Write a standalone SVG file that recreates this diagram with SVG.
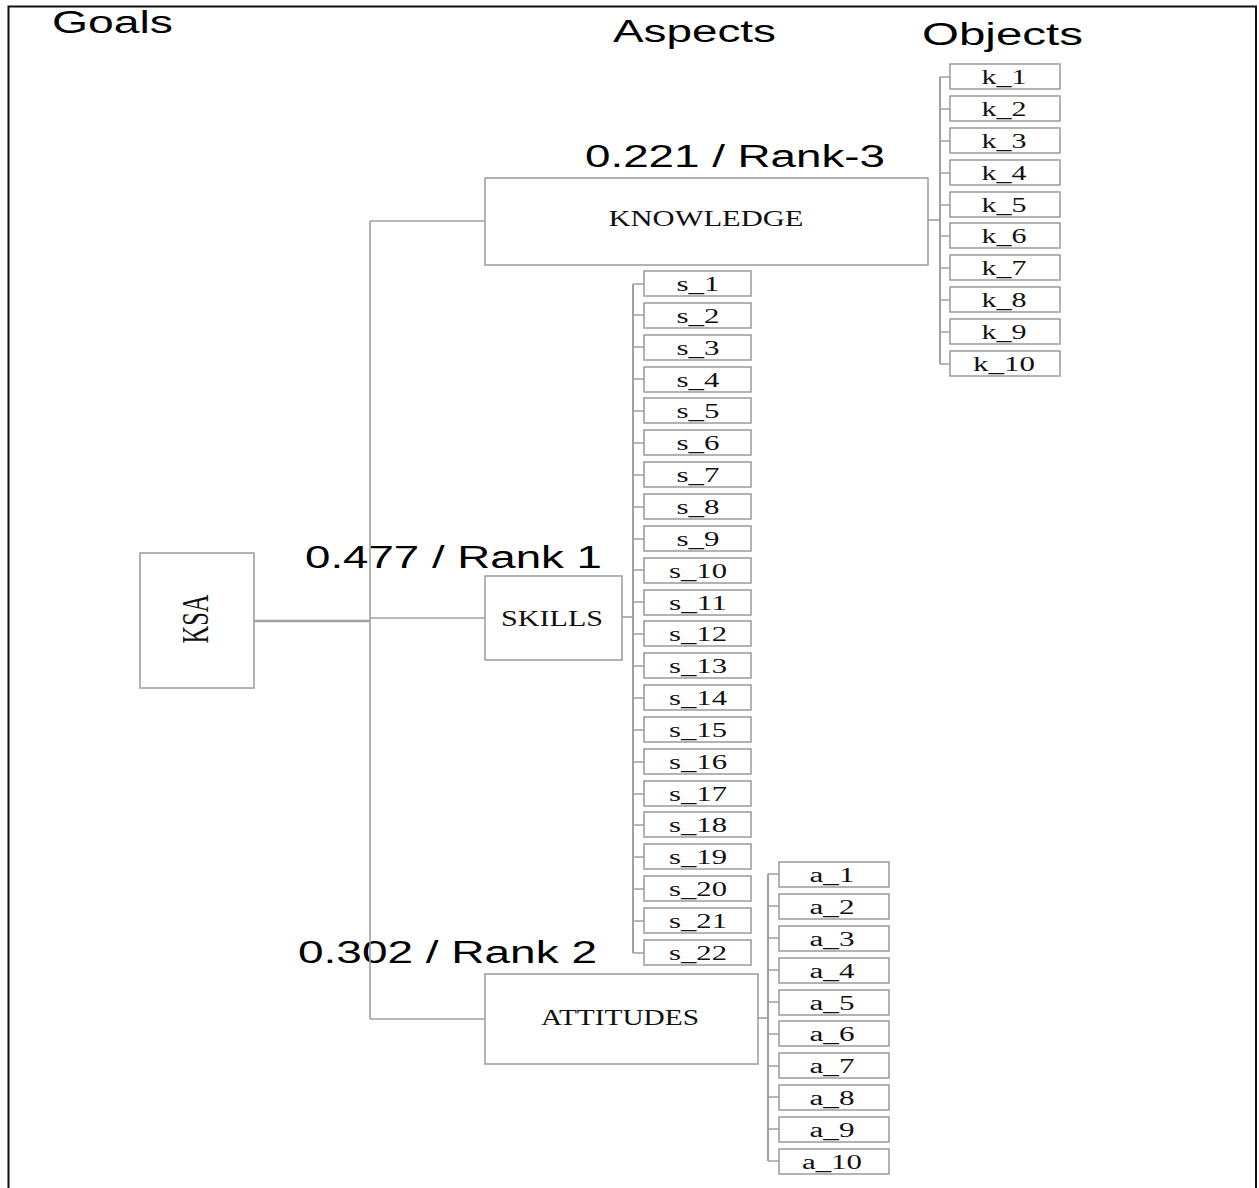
<svg xmlns="http://www.w3.org/2000/svg" width="1259" height="1188" viewBox="0 0 1259 1188">
<style>
.bx{fill:#fff;stroke:#a0a0a0;stroke-width:1.6}
.ln{fill:none;stroke:#a0a0a0;stroke-width:1.6}
.hd{font-family:"Liberation Sans",Arial,sans-serif;font-size:31px;fill:#000}
.tm{font-family:"Liberation Serif","Times New Roman",serif;fill:#111;text-anchor:middle}
.ob{font-size:20px}
.as{font-size:24px}
</style>
<rect x="0" y="0" width="1259" height="1188" fill="#fff"/>
<g id="frame" fill="none" stroke="#111" stroke-width="2">
<path d="M8.5,1188 V6.5 H1256 V1188"/>
</g>
<g id="headers">
<text class="hd" x="52" y="33" font-size="33" textLength="121" lengthAdjust="spacingAndGlyphs">Goals</text>
<text class="hd" x="613" y="42" textLength="163" lengthAdjust="spacingAndGlyphs">Aspects</text>
<text class="hd" x="922" y="45" textLength="161" lengthAdjust="spacingAndGlyphs">Objects</text>
<text class="hd" x="585" y="167" textLength="300" lengthAdjust="spacingAndGlyphs">0.221 / Rank-3</text>
<text class="hd" x="305" y="568" textLength="297" lengthAdjust="spacingAndGlyphs">0.477 / Rank 1</text>
<text class="hd" x="298" y="963" textLength="299" lengthAdjust="spacingAndGlyphs">0.302 / Rank 2</text>
</g>
<g id="connectors" class="ln">
<path d="M254,621 H370" stroke-width="2.4"/>
<path d="M370,221 V1019"/>
<path d="M370,221 H485"/>
<path d="M370,618 H485"/>
<path d="M370,1019 H485"/>
<path d="M928,220 H940"/>
<path d="M940,77 V364" stroke-width="2"/>
<path d="M940,77 H950 M940,109 H950 M940,141 H950 M940,173 H950 M940,205 H950 M940,236 H950 M940,268 H950 M940,300 H950 M940,332 H950 M940,364 H950"/>
<path d="M622,617 H633"/>
<path d="M633,284 V953" stroke-width="2"/>
<path d="M633,284 H644 M633,315 H644 M633,347 H644 M633,379 H644 M633,411 H644 M633,443 H644 M633,475 H644 M633,507 H644 M633,539 H644 M633,570 H644 M633,602 H644 M633,634 H644 M633,666 H644 M633,698 H644 M633,730 H644 M633,762 H644 M633,794 H644 M633,825 H644 M633,857 H644 M633,889 H644 M633,921 H644 M633,953 H644"/>
<path d="M758,1018 H768"/>
<path d="M768,874 V1161" stroke-width="2"/>
<path d="M768,874 H779 M768,906 H779 M768,938 H779 M768,970 H779 M768,1002 H779 M768,1034 H779 M768,1066 H779 M768,1097 H779 M768,1129 H779 M768,1161 H779"/>
</g>
<g id="ksa"><rect class="bx" x="140" y="553" width="114" height="135"/><text class="tm" transform="translate(208,619) scale(1.5,1) rotate(-90)" font-size="25" textLength="49" lengthAdjust="spacingAndGlyphs">KSA</text></g>
<g id="knowledge"><rect class="bx" x="485" y="178" width="443" height="87"/><text class="tm as" x="706" y="226" textLength="195" lengthAdjust="spacingAndGlyphs">KNOWLEDGE</text></g>
<g id="skills"><rect class="bx" x="485" y="576" width="137" height="84"/><text class="tm as" x="552" y="626" textLength="102" lengthAdjust="spacingAndGlyphs">SKILLS</text></g>
<g id="attitudes"><rect class="bx" x="485" y="974" width="273" height="90"/><text class="tm as" x="620" y="1025" textLength="158" lengthAdjust="spacingAndGlyphs">ATTITUDES</text></g>
<g id="k_1"><rect class="bx" x="950" y="64" width="110" height="25"/><text class="tm ob" x="1004" y="84" textLength="45" lengthAdjust="spacingAndGlyphs">k_1</text></g>
<g id="k_2"><rect class="bx" x="950" y="96" width="110" height="25"/><text class="tm ob" x="1004" y="116" textLength="45" lengthAdjust="spacingAndGlyphs">k_2</text></g>
<g id="k_3"><rect class="bx" x="950" y="128" width="110" height="25"/><text class="tm ob" x="1004" y="148" textLength="45" lengthAdjust="spacingAndGlyphs">k_3</text></g>
<g id="k_4"><rect class="bx" x="950" y="160" width="110" height="25"/><text class="tm ob" x="1004" y="180" textLength="45" lengthAdjust="spacingAndGlyphs">k_4</text></g>
<g id="k_5"><rect class="bx" x="950" y="192" width="110" height="25"/><text class="tm ob" x="1004" y="212" textLength="45" lengthAdjust="spacingAndGlyphs">k_5</text></g>
<g id="k_6"><rect class="bx" x="950" y="223" width="110" height="25"/><text class="tm ob" x="1004" y="243" textLength="45" lengthAdjust="spacingAndGlyphs">k_6</text></g>
<g id="k_7"><rect class="bx" x="950" y="255" width="110" height="25"/><text class="tm ob" x="1004" y="275" textLength="45" lengthAdjust="spacingAndGlyphs">k_7</text></g>
<g id="k_8"><rect class="bx" x="950" y="287" width="110" height="25"/><text class="tm ob" x="1004" y="307" textLength="45" lengthAdjust="spacingAndGlyphs">k_8</text></g>
<g id="k_9"><rect class="bx" x="950" y="319" width="110" height="25"/><text class="tm ob" x="1004" y="339" textLength="45" lengthAdjust="spacingAndGlyphs">k_9</text></g>
<g id="k_10"><rect class="bx" x="950" y="351" width="110" height="25"/><text class="tm ob" x="1004" y="371" textLength="62" lengthAdjust="spacingAndGlyphs">k_10</text></g>
<g id="s_1"><rect class="bx" x="644" y="271" width="107" height="25"/><text class="tm ob" x="698" y="291" textLength="43" lengthAdjust="spacingAndGlyphs">s_1</text></g>
<g id="s_2"><rect class="bx" x="644" y="303" width="107" height="25"/><text class="tm ob" x="698" y="323" textLength="43" lengthAdjust="spacingAndGlyphs">s_2</text></g>
<g id="s_3"><rect class="bx" x="644" y="335" width="107" height="25"/><text class="tm ob" x="698" y="355" textLength="43" lengthAdjust="spacingAndGlyphs">s_3</text></g>
<g id="s_4"><rect class="bx" x="644" y="367" width="107" height="25"/><text class="tm ob" x="698" y="387" textLength="43" lengthAdjust="spacingAndGlyphs">s_4</text></g>
<g id="s_5"><rect class="bx" x="644" y="398" width="107" height="25"/><text class="tm ob" x="698" y="418" textLength="43" lengthAdjust="spacingAndGlyphs">s_5</text></g>
<g id="s_6"><rect class="bx" x="644" y="430" width="107" height="25"/><text class="tm ob" x="698" y="450" textLength="43" lengthAdjust="spacingAndGlyphs">s_6</text></g>
<g id="s_7"><rect class="bx" x="644" y="462" width="107" height="25"/><text class="tm ob" x="698" y="482" textLength="43" lengthAdjust="spacingAndGlyphs">s_7</text></g>
<g id="s_8"><rect class="bx" x="644" y="494" width="107" height="25"/><text class="tm ob" x="698" y="514" textLength="43" lengthAdjust="spacingAndGlyphs">s_8</text></g>
<g id="s_9"><rect class="bx" x="644" y="526" width="107" height="25"/><text class="tm ob" x="698" y="546" textLength="43" lengthAdjust="spacingAndGlyphs">s_9</text></g>
<g id="s_10"><rect class="bx" x="644" y="558" width="107" height="25"/><text class="tm ob" x="698" y="578" textLength="58" lengthAdjust="spacingAndGlyphs">s_10</text></g>
<g id="s_11"><rect class="bx" x="644" y="590" width="107" height="25"/><text class="tm ob" x="698" y="610" textLength="58" lengthAdjust="spacingAndGlyphs">s_11</text></g>
<g id="s_12"><rect class="bx" x="644" y="621" width="107" height="25"/><text class="tm ob" x="698" y="641" textLength="58" lengthAdjust="spacingAndGlyphs">s_12</text></g>
<g id="s_13"><rect class="bx" x="644" y="653" width="107" height="25"/><text class="tm ob" x="698" y="673" textLength="58" lengthAdjust="spacingAndGlyphs">s_13</text></g>
<g id="s_14"><rect class="bx" x="644" y="685" width="107" height="25"/><text class="tm ob" x="698" y="705" textLength="58" lengthAdjust="spacingAndGlyphs">s_14</text></g>
<g id="s_15"><rect class="bx" x="644" y="717" width="107" height="25"/><text class="tm ob" x="698" y="737" textLength="58" lengthAdjust="spacingAndGlyphs">s_15</text></g>
<g id="s_16"><rect class="bx" x="644" y="749" width="107" height="25"/><text class="tm ob" x="698" y="769" textLength="58" lengthAdjust="spacingAndGlyphs">s_16</text></g>
<g id="s_17"><rect class="bx" x="644" y="781" width="107" height="25"/><text class="tm ob" x="698" y="801" textLength="58" lengthAdjust="spacingAndGlyphs">s_17</text></g>
<g id="s_18"><rect class="bx" x="644" y="812" width="107" height="25"/><text class="tm ob" x="698" y="832" textLength="58" lengthAdjust="spacingAndGlyphs">s_18</text></g>
<g id="s_19"><rect class="bx" x="644" y="844" width="107" height="25"/><text class="tm ob" x="698" y="864" textLength="58" lengthAdjust="spacingAndGlyphs">s_19</text></g>
<g id="s_20"><rect class="bx" x="644" y="876" width="107" height="25"/><text class="tm ob" x="698" y="896" textLength="58" lengthAdjust="spacingAndGlyphs">s_20</text></g>
<g id="s_21"><rect class="bx" x="644" y="908" width="107" height="25"/><text class="tm ob" x="698" y="928" textLength="58" lengthAdjust="spacingAndGlyphs">s_21</text></g>
<g id="s_22"><rect class="bx" x="644" y="940" width="107" height="25"/><text class="tm ob" x="698" y="960" textLength="58" lengthAdjust="spacingAndGlyphs">s_22</text></g>
<g id="a_1"><rect class="bx" x="779" y="862" width="110" height="25"/><text class="tm ob" x="832" y="882" textLength="45" lengthAdjust="spacingAndGlyphs">a_1</text></g>
<g id="a_2"><rect class="bx" x="779" y="894" width="110" height="25"/><text class="tm ob" x="832" y="914" textLength="45" lengthAdjust="spacingAndGlyphs">a_2</text></g>
<g id="a_3"><rect class="bx" x="779" y="926" width="110" height="25"/><text class="tm ob" x="832" y="946" textLength="45" lengthAdjust="spacingAndGlyphs">a_3</text></g>
<g id="a_4"><rect class="bx" x="779" y="958" width="110" height="25"/><text class="tm ob" x="832" y="978" textLength="45" lengthAdjust="spacingAndGlyphs">a_4</text></g>
<g id="a_5"><rect class="bx" x="779" y="990" width="110" height="25"/><text class="tm ob" x="832" y="1010" textLength="45" lengthAdjust="spacingAndGlyphs">a_5</text></g>
<g id="a_6"><rect class="bx" x="779" y="1021" width="110" height="25"/><text class="tm ob" x="832" y="1041" textLength="45" lengthAdjust="spacingAndGlyphs">a_6</text></g>
<g id="a_7"><rect class="bx" x="779" y="1053" width="110" height="25"/><text class="tm ob" x="832" y="1073" textLength="45" lengthAdjust="spacingAndGlyphs">a_7</text></g>
<g id="a_8"><rect class="bx" x="779" y="1085" width="110" height="25"/><text class="tm ob" x="832" y="1105" textLength="45" lengthAdjust="spacingAndGlyphs">a_8</text></g>
<g id="a_9"><rect class="bx" x="779" y="1117" width="110" height="25"/><text class="tm ob" x="832" y="1137" textLength="45" lengthAdjust="spacingAndGlyphs">a_9</text></g>
<g id="a_10"><rect class="bx" x="779" y="1149" width="110" height="25"/><text class="tm ob" x="832" y="1169" textLength="60" lengthAdjust="spacingAndGlyphs">a_10</text></g>
</svg>
